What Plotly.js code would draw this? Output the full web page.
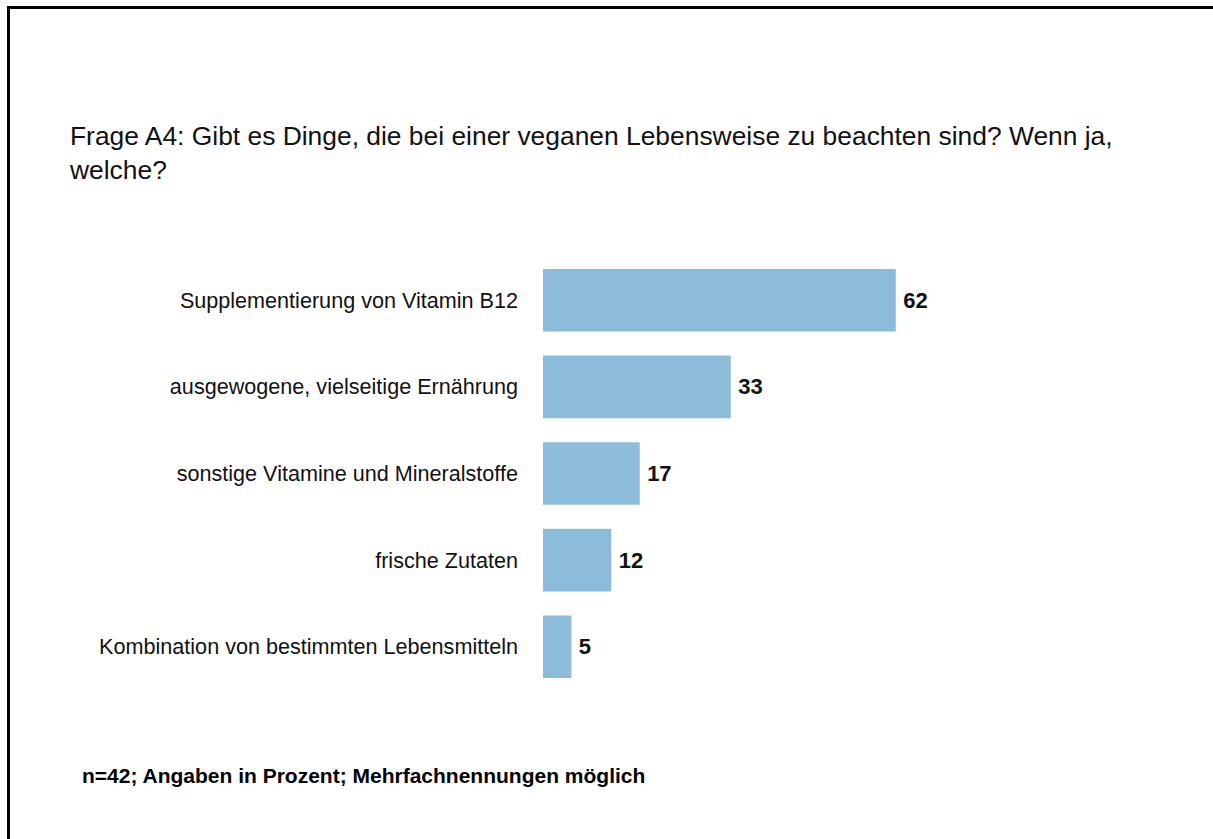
<!DOCTYPE html>
<html>
<head>
<meta charset="utf-8">
<script src="https://cdn.plot.ly/plotly-3.0.1.min.js"></script>
<style>
  html, body { margin: 0; padding: 0; background: #fff; }
  #chart { width: 1213px; height: 839px; position: relative; }
  #frame { position: absolute; left: 7px; top: 6px; width: 1220px; height: 900px;
           border-top: 3px solid #000; border-left: 3px solid #000; pointer-events: none; }
</style>
</head>
<body>
<div id="chart"></div>
<div id="frame"></div>
<script>
const categories = [
  "Supplementierung von Vitamin B12",
  "ausgewogene, vielseitige Ernährung",
  "sonstige Vitamine und Mineralstoffe",
  "frische Zutaten",
  "Kombination von bestimmten Lebensmitteln"
];
const values = [62, 33, 17, 12, 5];
const titleText = "Frage A4: Gibt es Dinge, die bei einer veganen Lebensweise zu beachten sind? Wenn ja,<br>welche?";
const footnote = "n=42; Angaben in Prozent; Mehrfachnennungen möglich";

const trace = {
  type: "bar",
  orientation: "h",
  x: values,
  y: categories,
  marker: { color: "#8dbcda" },
  text: values.map(v => "\u2009" + String(v)),
  textposition: "outside",
  textfont: { family: "Liberation Sans, Arial, sans-serif", size: 22, color: "#111", weight: 700 },
  cliponaxis: false,
  hoverinfo: "none"
};

const layout = {
  width: 1213,
  height: 839,
  paper_bgcolor: "#fff",
  plot_bgcolor: "#fff",
  margin: { l: 543, r: 101, t: 257, b: 149 },
  showlegend: false,
  bargap: 0.277,
  title: {
    text: titleText,
    xref: "container", yref: "container",
    x: 70 / 1213, xanchor: "left",
    y: 1 - 145 / 839, yanchor: "top",
    font: { family: "Liberation Sans, Arial, sans-serif", size: 26.4, color: "#111" }
  },
  xaxis: {
    range: [0, 100],
    visible: false,
    fixedrange: true
  },
  yaxis: {
    autorange: "reversed",
    showline: false,
    showgrid: false,
    zeroline: false,
    ticks: "",
    ticklabelstandoff: 24,
    tickfont: { family: "Liberation Sans, Arial, sans-serif", size: 21.6, color: "#111" },
    fixedrange: true
  },
  annotations: [{
    text: "<b>" + footnote + "</b>",
    xref: "paper", yref: "paper",
    x: (80 - 543) / 569, xanchor: "left",
    y: -(775 - 689.75) / 432.5, yanchor: "middle",
    showarrow: false,
    font: { family: "Liberation Sans, Arial, sans-serif", size: 21, color: "#000" }
  }]
};

Plotly.newPlot("chart", [trace], layout, { displayModeBar: false, staticPlot: true });
</script>
</body>
</html>
